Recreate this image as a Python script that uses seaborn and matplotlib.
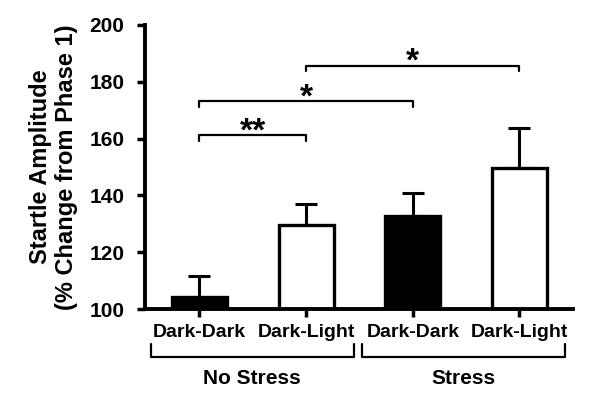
import numpy as np
import pandas as pd
import matplotlib
matplotlib.use("Agg")
import matplotlib.pyplot as plt
import seaborn as sns

groups = ["No Stress", "No Stress", "Stress", "Stress"]
conditions = ["Dark-Dark", "Dark-Light", "Dark-Dark", "Dark-Light"]
means = [104.3, 129.6, 132.7, 149.6]
sems = [7.4, 7.4, 8.3, 14.2]
bar_colors = ["black", "white", "black", "white"]

# significance brackets: (bar a, bar b, height, label)
sig_pairs = [(0, 1, 161.3, "**"), (0, 2, 173.2, "*"), (1, 3, 185.6, "*")]

sns.set_style("ticks")
plt.rcParams["font.family"] = ["Liberation Sans", "DejaVu Sans"]
plt.rcParams["font.weight"] = "bold"
plt.rcParams["text.color"] = "black"
plt.rcParams["axes.labelcolor"] = "black"
plt.rcParams["axes.edgecolor"] = "black"
plt.rcParams["xtick.color"] = "black"
plt.rcParams["ytick.color"] = "black"

df = pd.DataFrame({"bar": [f"{g}|{c}|{i}" for i, (g, c) in enumerate(zip(groups, conditions))],
                   "mean": means})

fig = plt.figure(figsize=(6, 4.01), dpi=100)
ax = fig.add_axes([0.2417, 0.229, 0.713, 0.709])

sns.barplot(data=df, x="bar", y="mean", hue="bar", palette=bar_colors,
            edgecolor="black", linewidth=2.4, width=0.515, errorbar=None,
            legend=False, ax=ax)
ax.errorbar(range(len(means)), means, yerr=[np.zeros(len(sems)), sems],
            fmt="none", ecolor="black", elinewidth=2.2, capsize=8, capthick=2.2,
            zorder=0)

ax.set_ylim(100, 200)
ax.set_xlim(-0.51, 3.5)
ax.set_yticks(range(100, 201, 20))
ax.set_xticks(range(len(conditions)))
ax.set_xticklabels(conditions, fontsize=14, fontweight="bold")
ax.tick_params(axis="y", labelsize=15, width=2.5, length=6, pad=9)
ax.tick_params(axis="x", width=2.5, length=6, pad=5)
for lab in ax.get_yticklabels():
    lab.set_fontweight("bold")
ax.set_xlabel("")
ax.set_ylabel("Startle Amplitude\n(% Change from Phase 1)", fontsize=17,
              fontweight="bold", labelpad=8, linespacing=1.15)
sns.despine(ax=ax)
for s in ["left", "bottom"]:
    ax.spines[s].set_linewidth(2.8)

# significance brackets
for a, b, h, lab in sig_pairs:
    ax.plot([a, a, b, b], [h - 2, h, h, h - 2], color="black", lw=1.6,
            clip_on=False)
    ax.text((a + b) / 2, h - 4.3, lab, ha="center", va="bottom",
            fontsize=24, fontweight="bold")

# group brackets below the axis
trans = ax.get_xaxis_transform()
group_spans = [(-0.458, 1.449, "No Stress"), (1.523, 3.43, "Stress")]
for x0, x1, name in group_spans:
    ax.plot([x0, x0, x1, x1], [-0.123, -0.169, -0.169, -0.123], color="black",
            lw=1.6, transform=trans, clip_on=False)
    ax.text((x0 + x1) / 2, -0.243, name, ha="center", va="center",
            fontsize=15, fontweight="bold", transform=trans)

fig.savefig("out.png", dpi=100)
